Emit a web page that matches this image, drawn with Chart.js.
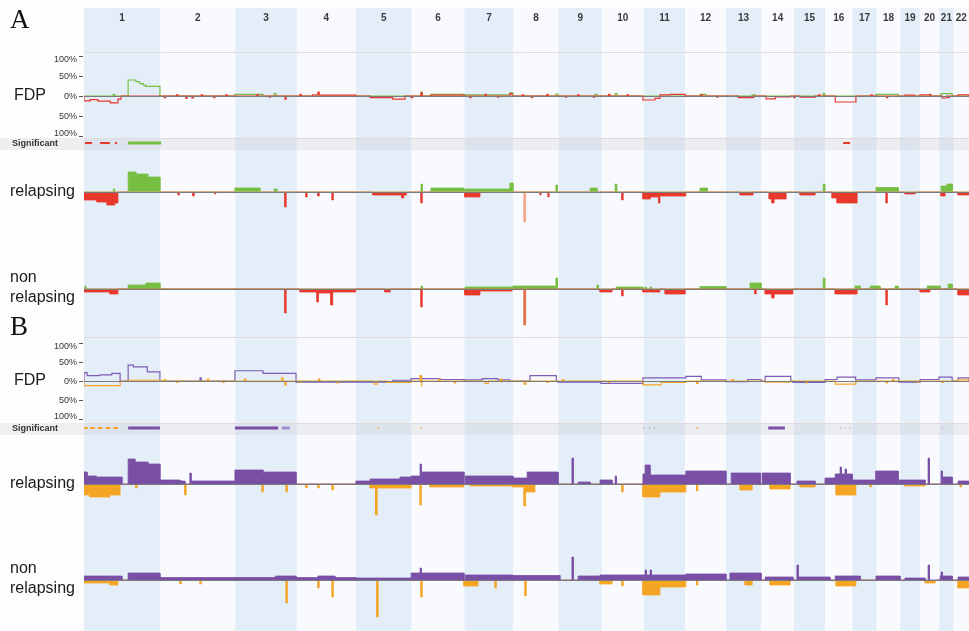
<!DOCTYPE html>
<html><head><meta charset="utf-8">
<script src="https://cdn.jsdelivr.net/npm/chart.js@4.4.0/dist/chart.umd.min.js"></script>
<style>html,body{margin:0;padding:0;background:#fff;}canvas{display:block;}</style>
</head><body>
<canvas id="c" width="969" height="631"></canvas>
<script>
// ---------- categories ----------
const CHROMS = ['1','2','3','4','5','6','7','8','9','10','11','12','13','14','15','16','17','18','19','20','21','22'];
const CHROM_LEN_MB = [247.2,242.8,199.5,191.3,180.9,170.9,158.8,146.3,140.3,135.4,134.5,132.3,114.1,106.4,100.3,88.8,78.8,76.1,63.8,62.4,46.9,49.7];
const FDP_TICKS = [100, 50, 0, -50, -100];
const TRACK_LABELS = {fdp:'FDP', sig:'Significant', rel:'relapsing', non1:'non', non2:'relapsing'};

// ---------- series: [genome start Mb, genome end Mb, value %] ----------
// Panel A – FDP lines
const fdpA_gain = [[95,99,4],[143,168,40],[168,180,36],[180,192,31],[192,200,27],[200,246,24],[489,580,4],[616,622,6],[1092,1096,10],[1124,1231,4],[1235,1380,3],[1380,1390,8],[1529,1535,5],[1656,1662,4],[1721,1727,6],[1996,2015,4],[2165,2175,3],[2395,2400,6],[2566,2638,4],[2777,2813,6]];
const fdpA_loss = [[0,20,-12],[20,45,-9],[45,85,-13],[85,110,-17],[110,120,-8],[260,264,-4],[300,304,3],[330,334,-6],[350,355,-5],[380,384,3],[420,424,-4],[460,464,3],[560,565,3],[600,604,-3],[651,655,-8],[700,704,4],[740,758,3],[758,762,10],[762,880,2],[927,1000,-4],[1000,1040,-8],[1060,1065,-4],[1092,1096,8],[1124,1231,2],[1250,1254,-4],[1300,1304,4],[1340,1344,-3],[1380,1387,6],[1420,1424,3],[1450,1454,-4],[1500,1504,4],[1560,1564,-3],[1600,1604,3],[1650,1654,-3],[1700,1704,4],[1760,1764,3],[1811,1850,-10],[1850,1866,-6],[1866,1900,3],[1900,1948,4],[2000,2004,3],[2050,2054,-3],[2120,2170,-4],[2210,2240,-7],[2240,2290,-2],[2300,2304,-4],[2320,2370,-3],[2380,2384,3],[2434,2501,-15],[2550,2554,3],[2600,2604,-4],[2660,2690,2],[2709,2740,3],[2740,2744,4],[2780,2795,-5],[2800,2804,-4],[2832,2867,3]];
// Panel A – significant regions [start, end]
const sigA_gain = [[143,250]];
const sigA_loss = [[3,26],[52,84],[100,107],[2460,2482]];
// Panel A – relapsing
const relA_gain = [[95,99,6],[143,168,40],[168,207,36],[207,246,30],[489,570,8],[616,625,6],[1092,1096,16],[1124,1231,8],[1235,1380,6],[1380,1390,18],[1529,1534,14],[1640,1662,8],[1721,1726,16],[1996,2019,8],[2395,2400,16],[2566,2638,9],[2777,2796,12],[2796,2813,16]];
const relA_loss = [[0,42,-16],[42,75,-20],[75,100,-26],[100,110,-22],[305,309,-6],[353,357,-8],[424,427,-4],[651,655,-30],[719,723,-10],[758,762,-8],[804,808,-16],[936,1030,-6],[1030,1036,-12],[1036,1045,-6],[1092,1096,-22],[1234,1283,-10],[1478,1481,-6],[1504,1507,-10],[1743,1747,-16],[1811,1835,-14],[1835,1862,-10],[1862,1866,-22],[1866,1950,-8],[2126,2168,-6],[2220,2229,-14],[2229,2236,-22],[2236,2275,-14],[2320,2369,-6],[2424,2440,-12],[2440,2505,-22],[2599,2603,-22],[2660,2693,-4],[2777,2790,-8],[2832,2867,-6]];
const relA_spike = [[1426,1431,-60]];
// Panel A – non relapsing
const nonA_gain = [[3,6,6],[143,200,8],[200,246,12],[1092,1096,6],[1235,1390,4],[1390,1529,6],[1529,1534,22],[1662,1666,8],[1724,1811,4],[1818,1822,4],[1834,1838,4],[1996,2080,5],[2158,2194,12],[2395,2400,22],[2498,2515,6],[2547,2579,6],[2628,2638,6],[2732,2774,6],[2800,2813,10]];
const nonA_loss = [[0,84,-6],[84,110,-10],[651,655,-48],[700,755,-6],[755,760,-26],[760,800,-8],[800,806,-32],[806,880,-6],[975,992,-6],[1092,1096,-36],[1234,1283,-12],[1283,1387,-4],[1672,1711,-6],[1743,1747,-14],[1811,1866,-6],[1883,1948,-10],[2174,2178,-10],[2207,2229,-10],[2229,2236,-18],[2236,2297,-10],[2434,2505,-10],[2599,2603,-32],[2709,2741,-6],[2832,2867,-12]];
const nonA_spike = [[1426,1431,-72]];

// Panel B – FDP lines
const fdpB_gain = [[0,10,22],[10,50,14],[50,90,16],[90,117,20],[143,160,42],[160,205,37],[205,246,24],[376,380,8],[489,580,27],[580,687,20],[687,880,-3],[881,1000,-3],[1000,1060,2],[1060,1154,6],[1154,1231,4],[1235,1290,3],[1290,1340,6],[1340,1380,3],[1445,1530,14],[1536,1675,-3],[1675,1811,-6],[1811,1950,8],[1950,2000,12],[2000,2080,3],[2080,2150,-2],[2150,2194,4],[2207,2290,12],[2297,2401,-4],[2401,2440,4],[2440,2500,10],[2500,2566,3],[2566,2640,8],[2641,2709,-3],[2709,2770,4],[2770,2813,10],[2832,2867,8]];
const fdpB_loss = [[0,117,-12],[143,246,2],[260,264,4],[300,304,-4],[400,404,5],[450,454,-4],[520,524,5],[640,645,8],[651,655,-10],[700,704,-4],[760,764,5],[820,824,-5],[940,950,-8],[980,1060,-4],[1089,1092,14],[1092,1095,-14],[1150,1154,5],[1200,1204,-5],[1300,1310,-6],[1350,1354,5],[1426,1432,-8],[1500,1504,-4],[1550,1554,4],[1700,1704,-4],[1811,1870,-10],[1870,1950,-4],[1985,1990,-6],[2100,2104,4],[2207,2290,-3],[2340,2344,-5],[2434,2501,-8],[2599,2603,-5],[2620,2624,4],[2700,2704,-4],[2780,2784,-4],[2832,2867,3]];
// Panel B – significant regions
const sigB_gain = [[143,246],[489,629],[2217,2271]];
const sigB_gainWeak = [[641,667]];
const sigB_loss = [[0,12],[20,35],[45,60],[70,85],[95,110],[952,955],[1090,1093],[1985,1989]];
const sigB_other = [[1811,1815],[1830,1834],[1845,1849],[2450,2453],[2465,2468],[2480,2483],[2780,2783]];
// Panel B – relapsing
const relB_gain = [[0,10,24],[10,40,16],[40,123,14],[143,165,50],[165,207,44],[207,246,40],[246,311,8],[311,327,6],[343,347,22],[350,489,6],[489,580,28],[580,584,20],[584,687,24],[881,927,6],[927,1024,10],[1024,1060,14],[1060,1089,16],[1089,1093,40],[1093,1231,24],[1235,1390,16],[1390,1436,12],[1436,1536,24],[1581,1585,52],[1601,1640,4],[1672,1711,8],[1721,1725,16],[1811,1818,20],[1818,1834,38],[1834,1950,18],[1950,2080,26],[2097,2191,22],[2197,2288,22],[2310,2369,6],[2401,2434,12],[2434,2450,20],[2450,2454,34],[2454,2466,20],[2466,2470,30],[2470,2489,20],[2489,2563,8],[2566,2638,26],[2641,2725,8],[2735,2739,52],[2777,2781,26],[2781,2813,14],[2832,2867,6]];
const relB_loss = [[0,19,-22],[19,84,-26],[84,117,-22],[168,172,-8],[327,331,-22],[577,581,-16],[655,659,-16],[719,723,-8],[758,762,-8],[804,808,-12],[927,945,-8],[945,950,-62],[950,1060,-8],[1089,1093,-42],[1121,1231,-6],[1251,1387,-4],[1390,1426,-6],[1426,1431,-44],[1431,1461,-16],[1743,1747,-16],[1811,1866,-26],[1866,1950,-16],[1985,1989,-14],[2126,2165,-12],[2223,2288,-10],[2320,2369,-6],[2437,2501,-22],[2547,2551,-6],[2660,2725,-4],[2839,2843,-6]];
// Panel B – non relapsing
const nonB_gain = [[0,123,8],[143,246,14],[246,620,5],[620,687,8],[687,758,5],[758,813,8],[813,881,5],[881,1060,4],[1060,1089,14],[1089,1093,24],[1093,1231,14],[1235,1390,10],[1390,1542,9],[1581,1585,46],[1601,1672,8],[1672,1811,10],[1811,1818,10],[1818,1822,20],[1822,1834,10],[1834,1838,20],[1838,1950,10],[1950,2080,12],[2093,2194,14],[2207,2297,6],[2310,2314,30],[2314,2417,6],[2434,2515,8],[2566,2644,8],[2660,2725,4],[2735,2739,30],[2774,2777,8],[2777,2781,16],[2781,2813,8],[2832,2867,6]];
const nonB_loss = [[0,84,-6],[84,110,-10],[311,315,-8],[376,380,-8],[655,659,-46],[758,762,-16],[804,808,-34],[949,953,-74],[1092,1096,-34],[1231,1277,-12],[1332,1336,-16],[1429,1433,-32],[1672,1711,-8],[1743,1747,-12],[1811,1866,-30],[1866,1950,-14],[1985,1989,-10],[2142,2165,-10],[2223,2288,-10],[2437,2501,-12],[2725,2758,-6],[2832,2867,-16]];

// ---------- styles ----------
const C = {
  bandOdd:'#e4eef9', bandEven:'#f8fafd', page:'#fdfdfe',
  green:'#76bf43', red:'#e8392c', salmon:'#f2a48c', redOrange:'#e46a45',
  purple:'#7a4fa6', purpleLine:'#7d5db5', purpleWeak:'#a58fcf', orange:'#f5a524', gray:'#b9b9c4',
  strip:'rgba(190,190,195,0.22)', grid:'#e2dada', base:'#7b7b7b', text:'#1b1b1b', tick:'#333'
};

// ---------- helpers ----------
const offsets = []; let acc = 0;
for (const L of CHROM_LEN_MB) { offsets.push(acc); acc += L; }
const TOTAL = acc;

function stepPoints(segs) {
  const s = segs.map(([a, b, v]) => [Math.min(a, TOTAL), Math.min(b, TOTAL), v]).sort((p, q) => p[0] - q[0]);
  const pts = [{x: 0, y: 0}];
  for (const [a, b, v] of s) {
    const n = pts.length;
    if (n > 1 && pts[n-1].x === a && pts[n-1].y === 0 && pts[n-2].x === a) pts.pop();
    else pts.push({x: a, y: 0});
    pts.push({x: a, y: v}, {x: b, y: v}, {x: b, y: 0});
  }
  if (pts[pts.length - 1].x < TOTAL) pts.push({x: TOTAL, y: 0});
  return pts;
}
function barPoints(segs) {
  const pts = [];
  for (const [a, b] of segs) pts.push({x: a, y: 0}, {x: b, y: 0}, {x: b, y: null});
  return pts;
}
const area = (segs, color, axis) => ({data: stepPoints(segs), yAxisID: axis, borderColor: color, backgroundColor: color, borderWidth: 0.8, pointRadius: 0, tension: 0, fill: 'origin'});
const line = (segs, color, axis, w) => ({data: stepPoints(segs), yAxisID: axis, borderColor: color, borderWidth: w || 1, pointRadius: 0, tension: 0, fill: false});
const sig = (segs, color, axis, w) => ({data: barPoints(segs), yAxisID: axis, borderColor: color, borderWidth: w, pointRadius: 0, fill: false, spanGaps: false, borderCapStyle: 'butt'});

const datasets = [
  line(fdpA_loss, C.red, 'fdpA', 1.2), line(fdpA_gain, C.green, 'fdpA', 1.2),
  sig(sigA_gain, C.green, 'sigA', 3), sig(sigA_loss, C.red, 'sigA', 2),
  area(relA_spike, C.salmon, 'relA'), area(relA_gain, C.green, 'relA'), area(relA_loss, C.red, 'relA'),
  area(nonA_spike, C.redOrange, 'nonA'), area(nonA_gain, C.green, 'nonA'), area(nonA_loss, C.red, 'nonA'),
  line(fdpB_loss, C.orange, 'fdpB', 1.2), line(fdpB_gain, C.purpleLine, 'fdpB', 1.2),
  sig(sigB_gain, C.purple, 'sigB', 3), sig(sigB_gainWeak, C.purpleWeak, 'sigB', 3), sig(sigB_loss, C.orange, 'sigB', 2), sig(sigB_other, C.gray, 'sigB', 2),
  area(relB_gain, C.purple, 'relB'), area(relB_loss, C.orange, 'relB'),
  area(nonB_gain, C.purple, 'nonB'), area(nonB_loss, C.orange, 'nonB')
];

const hidden = (min, max) => ({type: 'linear', axis: 'y', position: 'left', min, max, display: false});

const decor = {
  id: 'decor',
  beforeDraw(chart) {
    const {ctx, chartArea: ca, scales: s} = chart;
    ctx.save();
    ctx.fillStyle = C.page; ctx.fillRect(0, 0, chart.width, chart.height);
    CHROMS.forEach((c, i) => {
      const x0 = s.x.getPixelForValue(offsets[i]);
      const x1 = s.x.getPixelForValue(offsets[i] + CHROM_LEN_MB[i]);
      ctx.fillStyle = i % 2 === 0 ? C.bandOdd : C.bandEven;
      ctx.fillRect(x0, ca.top, x1 - x0, ca.bottom - ca.top);
    });
    for (const id of ['sigA', 'sigB']) {
      const y0 = s[id].getPixelForValue(5), y1 = s[id].getPixelForValue(-7);
      ctx.fillStyle = C.strip; ctx.fillRect(0, y0, chart.width, y1 - y0);
      ctx.strokeStyle = C.grid; ctx.lineWidth = 1;
      ctx.beginPath(); ctx.moveTo(ca.left, Math.round(y0) + 0.5); ctx.lineTo(ca.right, Math.round(y0) + 0.5); ctx.stroke();
    }
    for (const [id, v] of [['fdpA', 110], ['fdpB', 116]]) {
      const y = Math.round(s[id].getPixelForValue(v)) + 0.5;
      ctx.strokeStyle = C.grid; ctx.beginPath(); ctx.moveTo(ca.left, y); ctx.lineTo(ca.right, y); ctx.stroke();
    }
    ctx.restore();
  },
  afterDatasetsDraw(chart) {
    const {ctx, chartArea: ca, scales: s} = chart;
    ctx.save();
    ctx.strokeStyle = C.base; ctx.lineWidth = 1;
    for (const id of ['fdpA', 'relA', 'nonA', 'fdpB', 'relB', 'nonB']) {
      const y = Math.round(s[id].getPixelForValue(0)) + 0.5;
      ctx.beginPath(); ctx.moveTo(ca.left, y); ctx.lineTo(ca.right, y); ctx.stroke();
    }
    ctx.restore();
  },
  afterDraw(chart) {
    const {ctx, scales: s} = chart;
    ctx.save();
    ctx.fillStyle = '#3a3a3a'; ctx.font = 'bold 10px "Liberation Sans", Arial, sans-serif';
    ctx.textAlign = 'center'; ctx.textBaseline = 'middle';
    CHROMS.forEach((c, i) => ctx.fillText(c, s.x.getPixelForValue(offsets[i] + CHROM_LEN_MB[i] / 2), 18));
    ctx.fillStyle = '#111'; ctx.font = '27px "Liberation Serif", "Times New Roman", serif';
    ctx.textAlign = 'left'; ctx.textBaseline = 'alphabetic';
    ctx.fillText('A', 10, 28); ctx.fillText('B', 10, 335);
    for (const id of ['fdpA', 'fdpB']) {
      ctx.font = '9px "Liberation Sans", Arial, sans-serif'; ctx.fillStyle = C.tick;
      ctx.textAlign = 'right'; ctx.textBaseline = 'middle';
      ctx.strokeStyle = '#555'; ctx.lineWidth = 1;
      for (const t of FDP_TICKS) {
        const y = Math.round(s[id].getPixelForValue(t)) + 0.5;
        ctx.beginPath(); ctx.moveTo(79, y); ctx.lineTo(83, y); ctx.stroke();
        ctx.fillText(Math.abs(t) + '%', 77, y + (t === 100 ? 3 : t === -100 ? -3 : 0));
      }
      ctx.textAlign = 'left'; ctx.fillStyle = C.text; ctx.font = '16px "Liberation Sans", Arial, sans-serif';
      ctx.fillText(TRACK_LABELS.fdp, 14, s[id].getPixelForValue(0));
    }
    for (const id of ['sigA', 'sigB']) {
      ctx.fillStyle = '#333'; ctx.font = 'bold 9px "Liberation Sans", Arial, sans-serif';
      ctx.textAlign = 'left'; ctx.textBaseline = 'middle';
      ctx.fillText(TRACK_LABELS.sig, 12, s[id].getPixelForValue(-1));
    }
    ctx.fillStyle = C.text; ctx.font = '16px "Liberation Sans", Arial, sans-serif';
    ctx.textAlign = 'left'; ctx.textBaseline = 'middle';
    for (const id of ['relA', 'relB']) ctx.fillText(TRACK_LABELS.rel, 10, s[id].getPixelForValue(0));
    for (const id of ['nonA', 'nonB']) {
      const y = s[id].getPixelForValue(0);
      ctx.fillText(TRACK_LABELS.non1, 10, y - 11);
      ctx.fillText(TRACK_LABELS.non2, 10, y + 9);
    }
    ctx.restore();
  }
};

new Chart(document.getElementById('c'), {
  type: 'line',
  data: {datasets},
  options: {
    responsive: false, animation: false, devicePixelRatio: 1,
    layout: {padding: {left: 84, top: 8, right: 0, bottom: 0}},
    plugins: {legend: {display: false}, tooltip: {enabled: false}},
    scales: {
      x: {type: 'linear', axis: 'x', min: 0, max: TOTAL, display: false},
      fdpA: hidden(-1337.5, 220),
      sigA: hidden(-488, 135),
      relA: hidden(-878, 368),
      nonA: hidden(-684, 562),
      fdpB: hidden(-657.9, 981.6),
      sigB: hidden(-203, 420),
      relB: hidden(-294, 952),
      nonB: hidden(-102, 1144)
    }
  },
  plugins: [decor]
});
</script>
</body></html>
